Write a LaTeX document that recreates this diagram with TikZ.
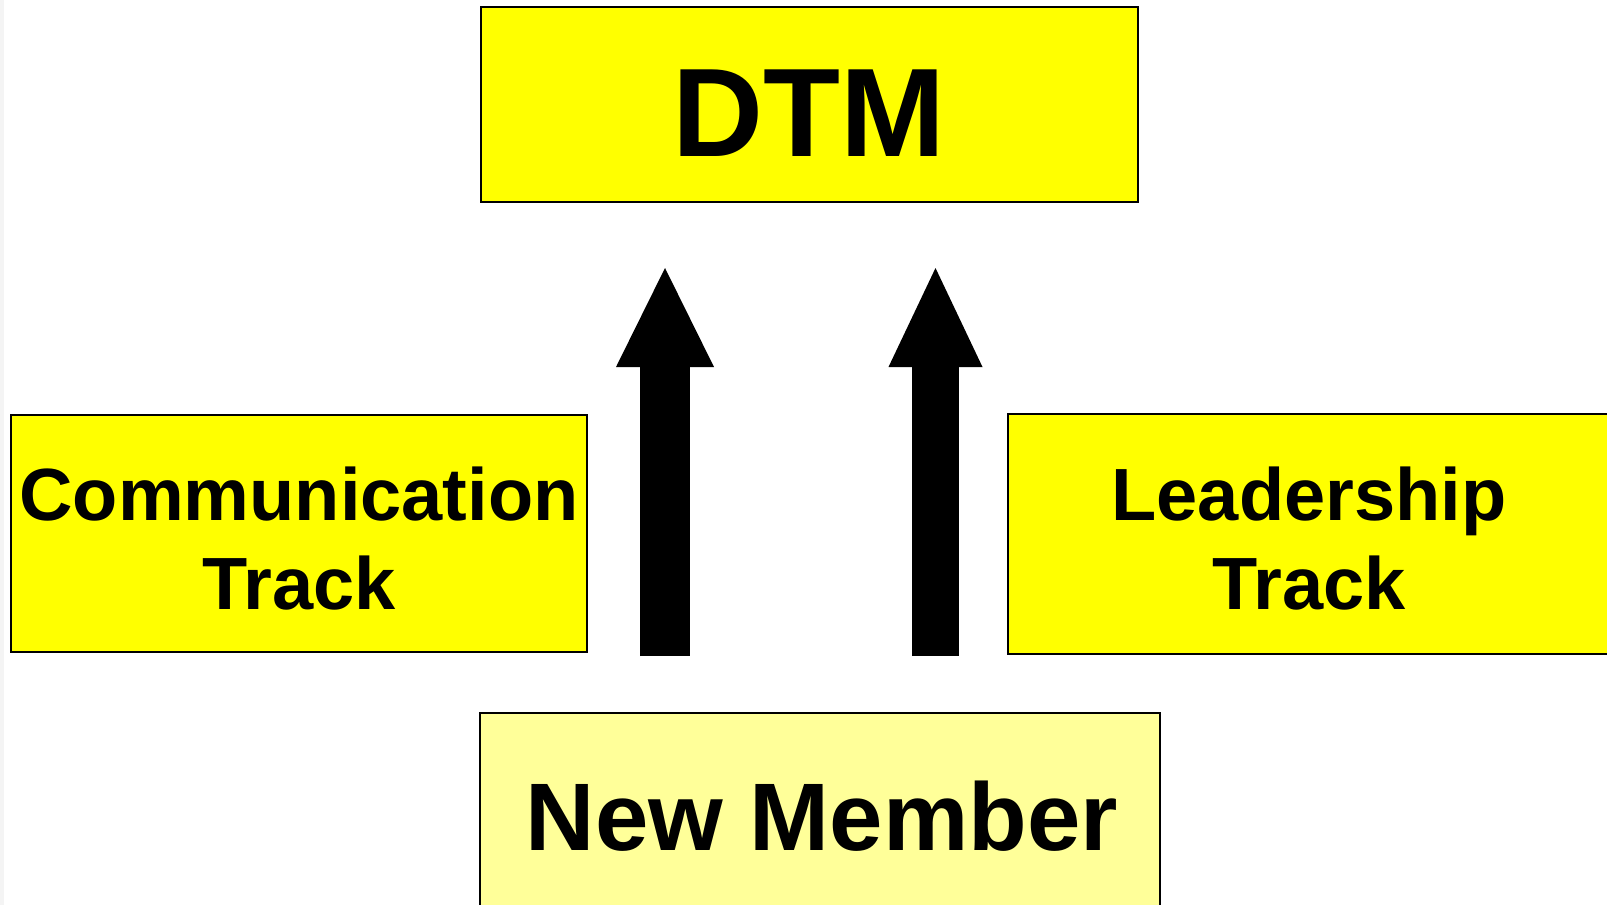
\documentclass[tikz,border=0pt]{standalone}
\usepackage{fontspec}
\setmainfont{Liberation Sans}
\usetikzlibrary{arrows.meta}
\definecolor{boxyellow}{HTML}{FFFF00}
\definecolor{paleyellow}{HTML}{FFFF99}
\definecolor{edgegray}{HTML}{F4F4F4}
\begin{document}
\begin{tikzpicture}[x=1pt,y=-1pt,
  box/.style={draw=black, line width=1.5pt, fill=boxyellow, rectangle, inner sep=0pt},
  lbl/.style={anchor=base, inner sep=0pt, font=\bfseries},
  blockarrow/.style={line width=50pt, line cap=butt, draw=black,
    -{Triangle[width=98pt,length=99pt,line width=0pt]}}]
\fill[white] (0,0) rectangle (1607,905);
\useasboundingbox (0,0) rectangle (1607,905);
\fill[edgegray] (0,0) rectangle (4,905);
% boxes
\node[box, line width=2.5pt, minimum width=657pt, minimum height=195pt] (dtm) at (809.5,104.5) {};
\node[box, minimum width=576pt, minimum height=237pt] (comm) at (299,533.5) {};
\node[box, minimum width=604pt, minimum height=240pt] (lead) at (1310,534) {};
\node[box, fill=paleyellow, minimum width=680pt, minimum height=207pt] (nm) at (820,816.5) {};
% labels
\node[lbl, font=\bfseries\fontsize{126}{150}\selectfont] (dtmt) at (809,156) {DTM};
\node[lbl, font=\bfseries\fontsize{74}{89}\selectfont] (commt1) at (299,520) {Communication};
\node[lbl, font=\bfseries\fontsize{74}{89}\selectfont] (commt2) at (299,609) {Track};
\node[lbl, font=\bfseries\fontsize{74}{89}\selectfont] (leadt1) at (1309,520) {Leadership};
\node[lbl, font=\bfseries\fontsize{74}{89}\selectfont] (leadt2) at (1309,609) {Track};
\node[lbl, font=\bfseries\fontsize{96}{115}\selectfont] (nmt) at (822,850) {New Member};
% arrows
\coordinate (la) at (665,656);
\coordinate (lb) at (665,268);
\coordinate (ra) at (935.5,656);
\coordinate (rb) at (935.5,268);
\draw[blockarrow] (la) -- (lb);
\draw[blockarrow, line width=47pt, -{Triangle[width=94pt,length=99pt,line width=0pt]}] (ra) -- (rb);
\end{tikzpicture}
\end{document}
